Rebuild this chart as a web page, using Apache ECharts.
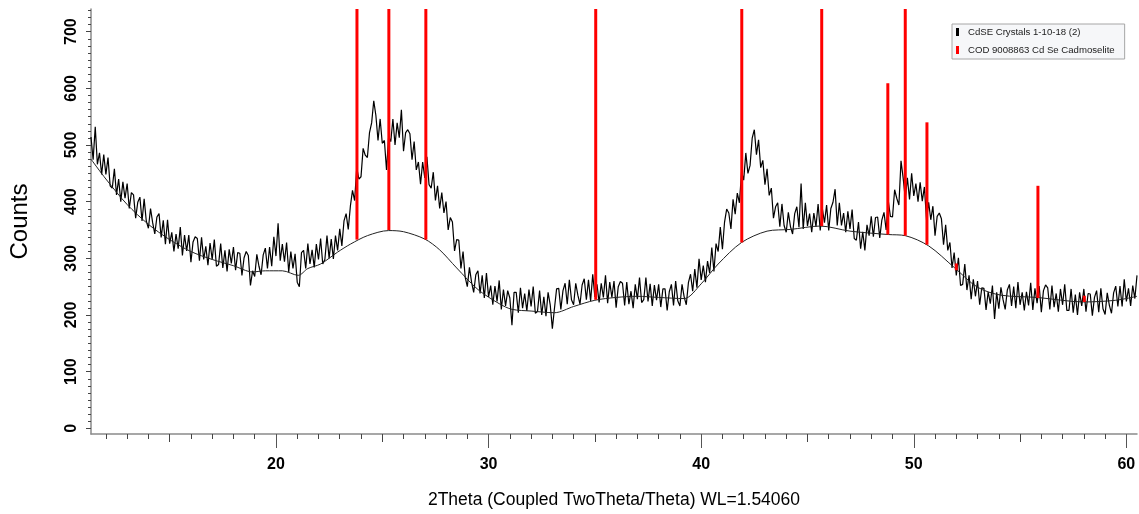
<!DOCTYPE html>
<html><head><meta charset="utf-8">
<script src="https://cdn.jsdelivr.net/npm/echarts@6/dist/echarts.min.js"></script>
<style>html,body{margin:0;padding:0;background:#fff}#chart{width:1139px;height:514px}</style>
</head><body><div id="chart"></div>
<script>
// ---- Measured pattern: CdSE Crystals 1-10-18 (2), step 0.1 deg from 11.3 deg ----
const twoThetaStart = 11.3;
const twoThetaStep = 0.1;
const counts = [
 514,474,532,466,486,448,483,448,478,428,
 424,458,412,440,400,435,406,432,388,416,
 412,371,399,408,366,405,366,353,388,363,
 343,373,379,337,367,325,368,326,346,312,
 343,317,355,305,341,313,341,293,329,338,
 335,296,337,298,321,288,327,298,333,286,
 289,326,283,314,277,316,291,320,279,310,
 309,270,301,312,305,252,278,268,307,286,
 271,306,318,282,320,286,338,304,362,296,
 325,294,328,276,312,282,308,258,250,310,
 314,282,326,290,315,284,325,298,335,290,
 298,340,300,334,299,340,314,352,322,366,
 379,351,392,420,402,460,440,444,494,482,
 478,522,539,578,552,508,546,503,508,456,
 515,506,546,500,539,513,562,489,522,527,
 520,474,506,456,470,431,470,442,479,430,
 424,452,402,428,388,416,380,400,350,372,
 364,313,333,332,282,312,267,250,284,258,
 240,271,278,238,270,230,274,232,252,218,
 251,224,261,210,245,216,243,230,182,240,
 240,204,248,212,238,207,245,215,250,203,
 206,243,200,232,198,240,218,176,212,246,
 247,210,243,256,219,262,227,218,256,235,
 219,253,264,227,262,225,272,232,254,222,
 256,231,270,221,258,231,260,213,250,259,
 256,217,258,219,242,212,254,228,266,222,
 227,266,224,255,216,253,226,254,214,246,
 246,208,241,254,217,260,225,216,254,232,
 218,257,272,242,281,248,299,262,287,258,
 295,274,319,277,326,312,355,316,364,387,
 380,352,404,378,415,398,453,438,486,450,
 464,512,527,483,509,460,473,430,458,411,
 424,371,391,398,356,396,358,346,381,356,
 343,379,391,355,432,352,398,357,379,346,
 380,356,396,349,388,363,394,349,388,399,
 422,358,398,358,380,346,383,352,386,335,
 332,364,317,347,314,359,340,374,338,372,
 373,336,368,381,350,402,374,373,421,406,
 394,472,442,406,442,404,450,410,432,400,
 434,401,426,368,399,368,392,340,374,380,
 370,324,359,314,328,283,310,270,301,252,
 254,290,244,270,228,263,233,260,218,248,
 247,209,241,220,252,193,240,211,249,227,
 210,244,254,216,250,212,258,218,240,208,
 241,217,257,209,247,221,251,205,243,253,
 248,210,252,214,238,206,246,218,254,208,
 208,246,204,236,200,240,216,246,206,238,
 237,199,231,243,205,247,211,201,239,217,
 203,239,251,215,251,215,263,224,247,216,
 252,229,270
];

// ---- Fitted background curve ----
const bgTheta  = [11.3,12,13,14,15,16,17,18,18.9,19.5,20.3,21.05,21.5,22.1,22.9,23.5,24.3,25.3,26,27,27.7,28.5,29.5,30.5,31.1,32,33.1,34,35,36,37,38,39.2,40,40.8,41.9,43.1,44.2,45.6,47,48.8,49.6,50.7,51.9,53,54.1,55.8,58,59.5,60.5];
const bgCounts = [475,440,395,360,333,312,298,287,276,278,278,270,282,290,311,325,340,349,347,334,315,283,245,220,210,207,204,215,226,231,233,231,229,255,290,328,348,351,357,348,342,340,322,284,249,235,231,223,226,233];

// ---- Reference pattern: COD 9008863 Cd Se Cadmoselite ----
const refTheta = [23.81,25.31,27.05,35.04,41.91,45.67,48.78,49.60,50.62,52.00,55.84,58.02];
const refBase  = [333,350,333,227,328,357,342,340,324,279,230,223];
const refTop   = [1000,1000,1000,1000,1000,1000,609,1000,540,291,428,234];

// ---- Axis ticks ----
const xLabelValues = [20,30,40,50,60];
const xMajorTicks = [20,30,40,50,60];
const xMidTicks = [15,25,35,45,55];
const xMinorTicks = [12,13,14,16,17,18,19,21,22,23,24,26,27,28,29,31,32,33,34,36,37,38,39,41,42,43,44,46,47,48,49,51,52,53,54,56,57,58,59];
const yLabelValues = [0,100,200,300,400,500,600,700];
const yMinorTicks = [12.5,25,37.5,50,62.5,75,87.5,112.5,125,137.5,150,162.5,175,187.5,212.5,225,237.5,250,262.5,275,287.5,312.5,325,337.5,350,362.5,375,387.5,412.5,425,437.5,450,462.5,475,487.5,512.5,525,537.5,550,562.5,575,587.5,612.5,625,637.5,650,662.5,675,687.5,712.5,725,737.5];

const seriesName = 'CdSE Crystals 1-10-18 (2)';
const refName = 'COD 9008863 Cd Se Cadmoselite';

const dataPts = counts.map((v, i) => [+(twoThetaStart + i * twoThetaStep).toFixed(2), v]);
const bgPts = bgTheta.map((t, i) => [t, bgCounts[i]]);
const refPts = refTheta.map((t, i) => [t, refBase[i], refTop[i]]);

const X_MIN = 11.3, X_MAX = 60.5, Y_MIN = -10, Y_MAX = 740;
const axisGray = '#8a8a8a';
const narrow = "'Liberation Sans Narrow','Arial Narrow','Liberation Sans',Arial,sans-serif";
const sans = "'Liberation Sans',Arial,sans-serif";

function hiddenX(extra) {
  return Object.assign({type:'value', min:X_MIN, max:X_MAX, gridIndex:0, position:'bottom',
    splitLine:{show:false}, axisLine:{show:false, onZero:false}, axisLabel:{show:false}}, extra);
}
function hiddenY(extra) {
  return Object.assign({type:'value', min:Y_MIN, max:Y_MAX, gridIndex:0, position:'left',
    splitLine:{show:false}, axisLine:{show:false, onZero:false}, axisLabel:{show:false}}, extra);
}

const chart = echarts.init(document.getElementById('chart'), null, {renderer:'canvas'});
chart.setOption({
  animation: false,
  backgroundColor: '#ffffff',
  grid: {left: 91, top: 9, width: 1046, height: 430, containLabel: false},
  legend: {
    orient: 'vertical', left: 952, top: 24,
    itemWidth: 3, itemHeight: 8, itemGap: 6,
    padding: [2, 10, 3, 4],
    borderColor: '#a6a6a6', borderWidth: 1, backgroundColor: '#f6f7f9',
    selectedMode: false,
    textStyle: {fontSize: 9.6, fontFamily: sans, color: '#222', lineHeight: 12, padding: [0,0,0,4]},
    data: [
      {name: seriesName, icon: 'rect', itemStyle: {color: '#000'}},
      {name: refName, icon: 'rect', itemStyle: {color: '#ff0000'}}
    ]
  },
  xAxis: [
    {type:'value', min:X_MIN, max:X_MAX, gridIndex:0, position:'bottom',
      splitLine:{show:false},
      axisLine:{show:true, onZero:false, lineStyle:{color:axisGray, width:1.5}},
      axisTick:{show:true, customValues:xMidTicks, length:8, lineStyle:{color:'#444', width:1}},
      axisLabel:{show:true, customValues:xLabelValues, margin:23, fontFamily:narrow, fontWeight:'bold', fontSize:16, color:'#000'},
      name:'2Theta (Coupled TwoTheta/Theta) WL=1.54060', nameLocation:'middle', nameGap:57,
      nameTextStyle:{fontFamily:sans, fontSize:17.5, color:'#000'}
    },
    hiddenX({axisTick:{show:true, customValues:xMajorTicks, length:14, lineStyle:{color:'#555', width:1}}}),
    hiddenX({axisTick:{show:true, customValues:xMinorTicks, length:5, lineStyle:{color:'#444', width:1}}})
  ],
  yAxis: [
    {type:'value', min:Y_MIN, max:Y_MAX, gridIndex:0, position:'left',
      splitLine:{show:false},
      axisLine:{show:true, onZero:false, lineStyle:{color:axisGray, width:1.5}},
      axisTick:{show:true, customValues:yLabelValues, length:5, lineStyle:{color:'#444', width:1}},
      axisLabel:{show:true, customValues:yLabelValues, rotate:90, margin:11, fontFamily:narrow, fontWeight:'bold', fontSize:16, color:'#000'},
      name:'Counts', nameLocation:'middle', nameGap:59,
      nameTextStyle:{fontFamily:sans, fontSize:24, color:'#000'}
    },
    hiddenY({axisTick:{show:true, customValues:yMinorTicks, length:3, lineStyle:{color:'#444', width:1}}})
  ],
  series: [
    {name: seriesName, type:'line', data:dataPts, xAxisIndex:0, yAxisIndex:0,
      symbol:'none', showSymbol:false, lineStyle:{color:'#000', width:1.2}, itemStyle:{color:'#000'}, z:2, silent:true},
    {name:'background', type:'line', data:bgPts, xAxisIndex:0, yAxisIndex:0, smooth:0.3,
      symbol:'none', showSymbol:false, lineStyle:{color:'#222', width:1}, z:3, silent:true},
    {name: refName, type:'custom', data:refPts, xAxisIndex:0, yAxisIndex:0, z:4, silent:true,
      itemStyle:{color:'#ff0000'},
      encode:{x:0, y:[1,2]},
      renderItem: function (params, api) {
        const x = api.value(0), b = api.value(1), t = api.value(2);
        const p0 = api.coord([x, b]);
        const p1 = api.coord([x, t]);
        const w = 3;
        const cs = params.coordSys;
        const rect = echarts.graphic.clipRectByRect(
          {x: p0[0] - w / 2, y: p1[1], width: w, height: p0[1] - p1[1]},
          {x: cs.x, y: cs.y, width: cs.width, height: cs.height});
        return rect && {type:'rect', shape:rect, style:{fill:'#ff0000'}};
      }
    }
  ]
});
</script></body></html>
